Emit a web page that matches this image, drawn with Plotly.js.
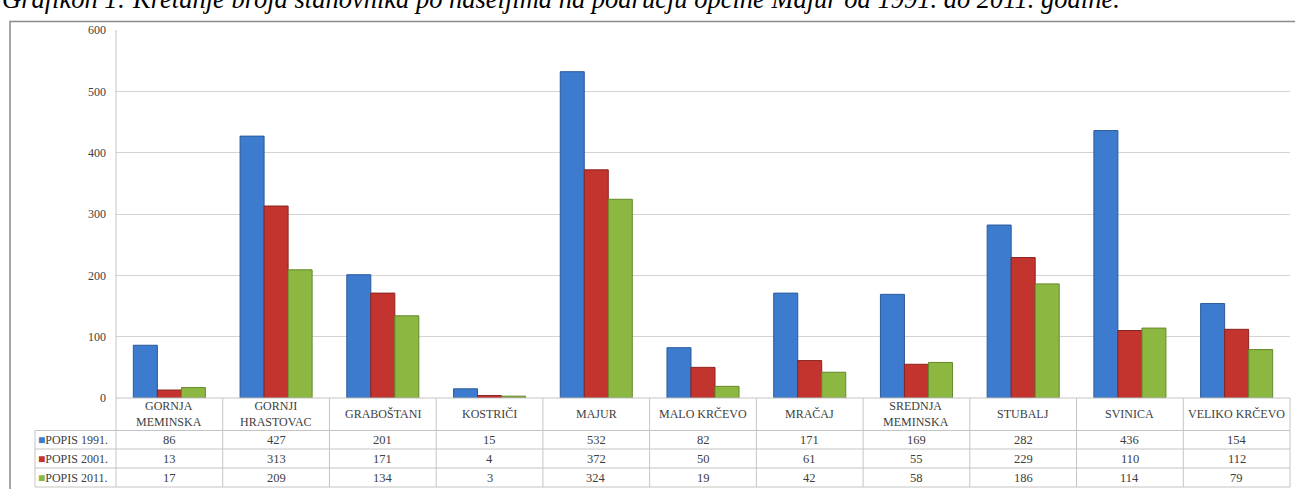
<!DOCTYPE html>
<html>
<head>
<meta charset="utf-8">
<script src="https://cdn.plot.ly/plotly-3.0.1.min.js"></script>
<style>html,body{margin:0;padding:0;background:#fff;}#chart{width:1295px;height:489px;}</style>
</head>
<body>
<div id="chart"></div>
<script>
// ---- data ----
const categories = ["GORNJA MEMINSKA","GORNJI HRASTOVAC","GRABOŠTANI","KOSTRIČI","MAJUR","MALO KRČEVO","MRAČAJ","SREDNJA MEMINSKA","STUBALJ","SVINICA","VELIKO KRČEVO"];
const categoryLabels = ["GORNJA<br>MEMINSKA","GORNJI<br>HRASTOVAC","GRABOŠTANI","KOSTRIČI","MAJUR","MALO KRČEVO","MRAČAJ","SREDNJA<br>MEMINSKA","STUBALJ","SVINICA","VELIKO KRČEVO"];
const seriesNames = ["POPIS 1991.","POPIS 2001.","POPIS 2011."];
const popis1991 = [86,427,201,15,532,82,171,169,282,436,154];
const popis2001 = [13,313,171,4,372,50,61,55,229,110,112];
const popis2011 = [17,209,134,3,324,19,42,58,186,114,79];
const yTicks = [0,100,200,300,400,500,600];
const titleText = "Grafikon 1: Kretanje broja stanovnika po naseljima na području općine Majur od 1991. do 2011. godine.";

// ---- styling / layout ----
const W = 1295, H = 489;
const plotL = 116, plotR = 1290, plotT = 30, plotB = 398;
const px2x = p => (p - plotL) / (plotR - plotL);
const px2y = p => (plotB - p) / (plotB - plotT);
const colors = ["#3D7BCF","#C3342F","#8CB741"];
const edge = ["#2B5A9A","#8A2320","#66882C"];
const seriesValues = [popis1991, popis2001, popis2011];
const serif = "'Liberation Serif', 'Times New Roman', serif";
const gridCol = "#d4d4d4";
const tableCol = "#c4c4c4";

const traces = seriesValues.map((vals, i) => ({
  type: "bar", x: categories, y: vals, name: seriesNames[i],
  marker: {color: colors[i], line: {color: edge[i], width: 1}},
  hoverinfo: "x+y+name"
}));

const shapes = [];
const annotations = [];
const line = (x0, y0, x1, y1, c, w) => shapes.push({type: "line", xref: "paper", yref: "paper",
  x0: px2x(x0), y0: px2y(y0), x1: px2x(x1), y1: px2y(y1), line: {color: c, width: w || 1}});

// outer frame
shapes.push({type: "rect", xref: "paper", yref: "paper", x0: px2x(10), y0: px2y(21.5), x1: px2x(1320), y1: px2y(520),
  line: {color: "#8a8a8a", width: 1.5}, fillcolor: "rgba(0,0,0,0)", layer: "below"});

// table
const rowY = [398, 430.5, 449, 468, 487];
const legendL = 35;
line(plotL, rowY[0], plotR, rowY[0], tableCol);
for (let r = 1; r < rowY.length; r++) line(legendL, rowY[r], plotR, rowY[r], tableCol);
line(legendL, rowY[1], legendL, rowY[4], tableCol);
line(plotL, plotT, plotL, rowY[4], tableCol);
const colW = (plotR - plotL) / categories.length;
for (let k = 1; k <= categories.length; k++) line(plotL + k * colW, rowY[0], plotL + k * colW, rowY[4], tableCol);

categories.forEach((c, k) => {
  annotations.push({xref: "x", yref: "paper", x: c, y: px2y((rowY[0] + rowY[1]) / 2), text: categoryLabels[k],
    showarrow: false, font: {family: serif, size: 12, color: "#404040"}, yanchor: "middle", xanchor: "center"});
  seriesValues.forEach((vals, i) => {
    annotations.push({xref: "x", yref: "paper", x: c, y: px2y((rowY[i + 1] + rowY[i + 2]) / 2), text: String(vals[k]),
      showarrow: false, font: {family: serif, size: 12.5, color: "#404040"}, yanchor: "middle", xanchor: "center"});
  });
});
seriesNames.forEach((n, i) => {
  annotations.push({xref: "paper", yref: "paper", x: px2x(legendL + 1), y: px2y((rowY[i + 1] + rowY[i + 2]) / 2),
    text: "<span style='color:" + colors[i] + "'>■</span>" + n, showarrow: false, xanchor: "left", yanchor: "middle",
    font: {family: serif, size: 12, color: "#404040"}});
});

// title (top partly cut off, as in the reference)
annotations.push({xref: "paper", yref: "paper", x: px2x(0), y: px2y(16), xanchor: "left", yanchor: "bottom",
  text: "<i>" + titleText + "</i>", showarrow: false, font: {family: serif, size: 26.5, color: "#000"}});

const layout = {
  width: W, height: H,
  margin: {l: plotL, r: W - plotR, t: plotT, b: H - plotB, pad: 0},
  paper_bgcolor: "#fff", plot_bgcolor: "#fff",
  showlegend: false,
  barmode: "group", bargap: 0.325, bargroupgap: 0,
  xaxis: {type: "category", range: [-0.5, categories.length - 0.5], showticklabels: false, ticks: "",
    showgrid: false, zeroline: false, showline: false, fixedrange: true},
  yaxis: {range: [0, 600], tickvals: yTicks, ticktext: yTicks.map(String), showgrid: true, gridcolor: gridCol,
    gridwidth: 1, zeroline: false, showline: false, ticks: "", ticklabelstandoff: 9,
    tickfont: {family: serif, size: 12, color: "#404040"}, fixedrange: true},
  shapes: shapes, annotations: annotations
};

Plotly.newPlot("chart", traces, layout, {displayModeBar: false, staticPlot: true});
</script>
</body>
</html>
